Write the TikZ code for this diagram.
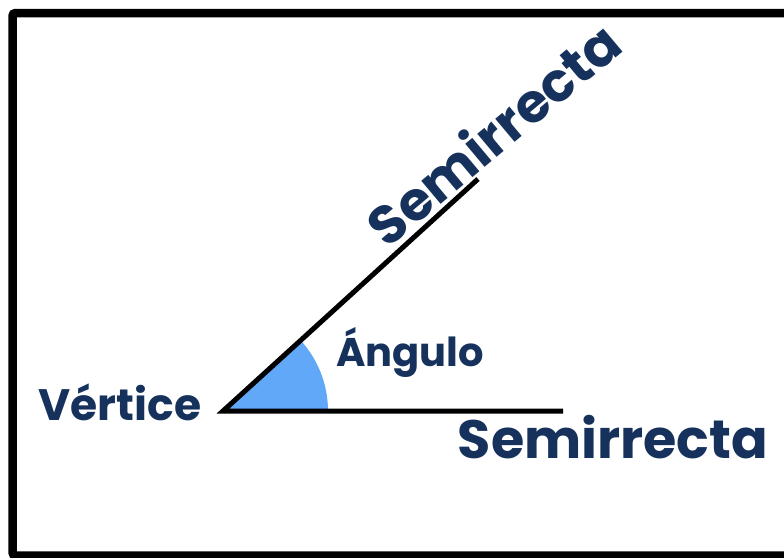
\documentclass[tikz,border=0pt]{standalone}
\usepackage{fontspec}
\setmainfont{Poppins}
\definecolor{navy}{RGB}{22,50,92}
\definecolor{wedge}{RGB}{98,168,248}
\begin{document}
\begin{tikzpicture}[x=1pt,y=-1pt,
  ray/.style={line width=5pt,line join=miter,black},
  lbl/.style={text=navy,font=\bfseries,inner sep=0pt,anchor=center}]
\useasboundingbox (0,0) rectangle (784,557);
\begin{scope}
\clip (0,0) rectangle (784,557);
\draw[line width=8.5pt,rounded corners=3pt] (12.5,13) rectangle (820,555.5);
\end{scope}
\coordinate (V) at (223,411);
\coordinate (H) at (563,411);
\coordinate (U) at (478,179);
\fill[wedge] (V) -- ++(105,0) arc[start angle=0,end angle=-42.3,radius=105] -- cycle;
\draw[ray] (H) -- (V) -- (U);
\node[lbl,font=\bfseries\fontsize{44}{44}\selectfont] (vert) at (120,402) {Vértice};
\node[lbl,font=\bfseries\fontsize{40}{40}\selectfont] (ang) at (410,352) {Ángulo};
\node[lbl,font=\bfseries\fontsize{54}{54}\selectfont] (s2) at (613,437) {Semirrecta};
\node[lbl,font=\bfseries\fontsize{54}{54}\selectfont,rotate=40] (s1) at (493,133) {Semirrecta};
\end{tikzpicture}
\end{document}
